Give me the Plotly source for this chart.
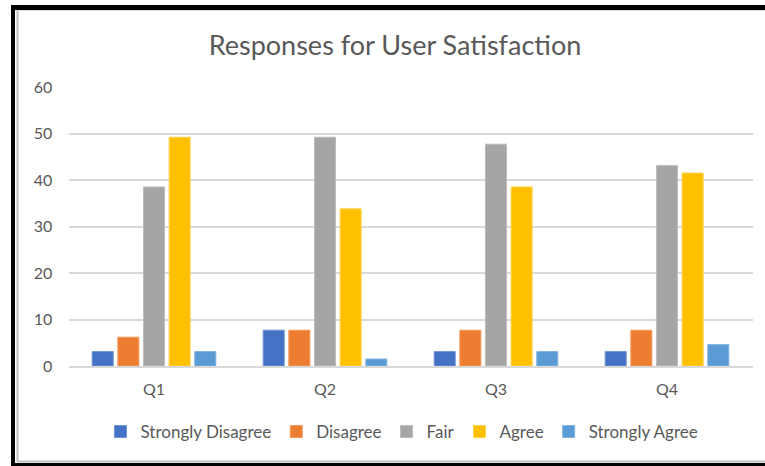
import plotly.graph_objects as go

categories = ["Q1", "Q2", "Q3", "Q4"]
series_names = ["Strongly Disagree", "Disagree", "Fair", "Agree", "Strongly Agree"]
strongly_disagree = [3.1, 7.7, 3.1, 3.1]
disagree = [6.2, 7.7, 7.7, 7.7]
fair = [38.5, 49.2, 47.7, 43.1]
agree = [49.2, 33.8, 38.5, 41.5]
strongly_agree = [3.1, 1.5, 3.1, 4.6]
y_ticks = [0, 10, 20, 30, 40, 50, 60]

colors = ["#4472C4", "#ED7D31", "#A5A5A5", "#FFC000", "#5B9BD5"]
edge = ["#6f93d6", "#f29a5e", "#bcbcbc", "#ffd24d", "#80b3e0"]
values = [strongly_disagree, disagree, fair, agree, strongly_agree]

W, H = 765, 466
FONT = "Lato, Carlito, Calibri, sans-serif"
TXT = "#595959"

def px(x):
    return x / W

def py(y):
    return 1 - y / H

fig = go.Figure()
for name, vals, c, e in zip(series_names, values, colors, edge):
    fig.add_trace(go.Bar(name=name, x=categories, y=vals, marker=dict(color=c, line=dict(color=e, width=1))))

shapes = [
    dict(type="rect", xref="paper", yref="paper", x0=px(11), x1=px(15), y0=py(466), y1=py(5),
         fillcolor="black", line=dict(width=0)),
    dict(type="rect", xref="paper", yref="paper", x0=px(11), x1=px(765), y0=py(10), y1=py(5),
         fillcolor="black", line=dict(width=0)),
    dict(type="rect", xref="paper", yref="paper", x0=px(11), x1=px(765), y0=py(466), y1=py(463),
         fillcolor="black", line=dict(width=0)),
    dict(type="line", xref="paper", yref="paper", x0=px(17.5), x1=px(17.5), y0=py(462), y1=py(10),
         line=dict(color="#c0c0c0", width=2)),
    dict(type="line", xref="paper", yref="paper", x0=px(17), x1=px(765), y0=py(461.5), y1=py(461.5),
         line=dict(color="#c0c0c0", width=2)),
    dict(type="line", xref="paper", yref="paper", x0=px(17), x1=px(765), y0=py(10.5), y1=py(10.5),
         line=dict(color="#e0e0e0", width=1)),
]

fig.update_layout(
    width=W, height=H,
    margin=dict(l=0, r=0, t=0, b=0, autoexpand=False),
    paper_bgcolor="white", plot_bgcolor="white",
    barmode="group", bargap=0.25, bargroupgap=0.18,
    title=dict(text="Responses for User Satisfaction", x=px(395), xanchor="center",
               y=py(46), yanchor="middle", font=dict(family=FONT, size=27, color=TXT)),
    font=dict(family=FONT, color=TXT, size=16),
    legend=dict(orientation="h", x=px(402), xanchor="center", y=py(432), yanchor="middle",
                font=dict(family=FONT, size=17, color=TXT), traceorder="normal",
                itemwidth=30),
    shapes=shapes,
    showlegend=True,
)
fig.update_xaxes(domain=[px(68.5), px(752.5)], automargin=False, showgrid=False, showline=True,
                 linecolor="#d9d9d9", linewidth=2, ticks="outside", ticklen=8,
                 tickcolor="rgba(0,0,0,0)", tickfont=dict(family=FONT, size=16, color=TXT))
fig.update_yaxes(domain=[py(366), py(87)], automargin=False, range=[0, 60], tickvals=y_ticks,
                 showgrid=True, gridcolor="#d9d9d9", gridwidth=2, zeroline=False, showline=False,
                 ticks="outside", ticklen=12, tickcolor="rgba(0,0,0,0)",
                 tickfont=dict(family=FONT, size=16, color=TXT))

fig.write_html("out.html")
